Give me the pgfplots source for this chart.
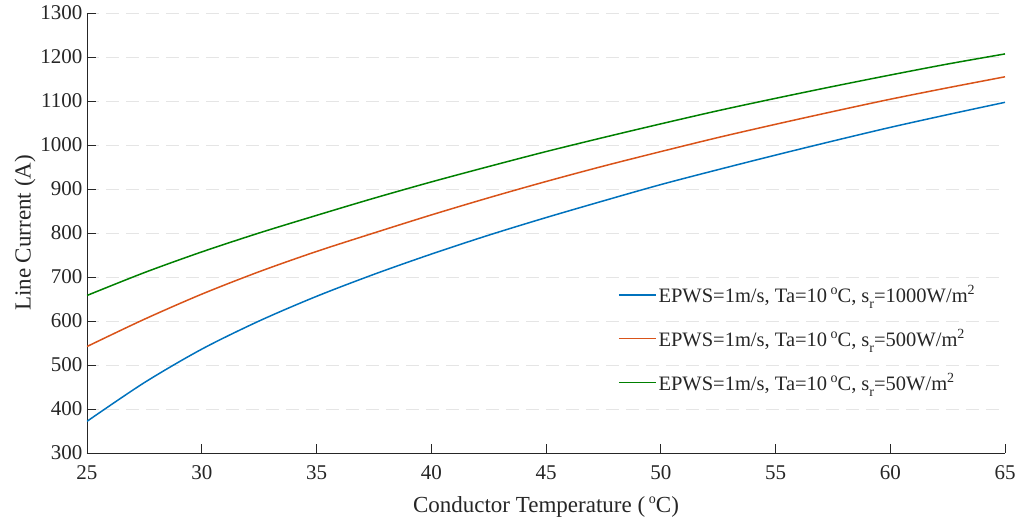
\documentclass[border=0pt]{standalone}
\usepackage{fontspec}
\setmainfont{Liberation Serif}
\usepackage{pgfplots}
\pgfplotsset{compat=1.18}
\definecolor{mblue}{rgb}{0,0.447,0.741}
\definecolor{morange}{rgb}{0.85,0.325,0.098}
\definecolor{mgreen}{rgb}{0,0.5,0}
\definecolor{txt}{rgb}{0.15,0.15,0.15}
\definecolor{gridc}{rgb}{0.9,0.9,0.9}
\newcommand{\mysup}[1]{\raisebox{0.85ex}{\fontsize{14}{14}\selectfont #1}}
\newcommand{\mysub}[1]{\raisebox{-0.6ex}{\fontsize{14}{14}\selectfont #1}}
\begin{document}
\begin{tikzpicture}
\path[use as bounding box] (-87pt,-68pt) rectangle (932pt,453pt);
\begin{axis}[
  scale only axis, width=918pt, height=440pt,
  xmin=25, xmax=65, ymin=300, ymax=1300,
  xtick={25,30,...,65}, ytick={300,400,...,1300},
  axis x line*=bottom, axis y line*=left,
  axis line style={txt, line width=0.8pt},
  xtick align=inside, ytick align=inside, major tick length=9pt,
  tick style={txt, line width=0.8pt},
  ymajorgrids,
  grid style={gridc, line width=0.8pt, dash pattern=on 13pt off 7pt, dash phase=-19pt},
  /pgf/number format/assume math mode=true,
  /pgf/number format/1000 sep={},
  ticklabel style={font=\fontsize{21}{24}\selectfont, text=txt},
  xticklabel style={yshift=-9pt},
  yticklabel style={xshift=-1pt},
  label style={font=\fontsize{23}{26}\selectfont, text=txt},
  xlabel={Conductor Temperature (\,\mysup{o}C)},
  ylabel={Line Current (A)},
  xlabel style={yshift=-10pt},
  ylabel style={yshift=-2pt},
  legend style={draw=none, fill=none, at={(0.575,0.39)}, anchor=north west,
    font=\fontsize{20.5}{24}\selectfont, text=txt, row sep=21pt,
    /tikz/every even column/.append style={column sep=4pt}},
  legend cell align=left,
  legend image code/.code={\draw[#1] (0pt,0pt) -- (37pt,0pt);},
]
\addplot[mblue, line width=1.5pt, smooth] coordinates {
(25,372) (27.5,460) (30,536) (32.5,600) (35,656) (37.5,706) (40,752) (42.5,795)
(45,835) (47.5,873) (50,910) (52.5,944) (55,977) (57.5,1009) (60,1040) (62.5,1069) (65,1097)};
\addlegendentry{EPWS=1m/s, Ta=10\,\mysup{o}C, s\mysub{r}=1000W/m\mysup{2}}
\addplot[morange, line width=1.5pt, smooth] coordinates {
(25,542) (27.5,604) (30,661) (32.5,712) (35,758) (37.5,800) (40,841) (42.5,880)
(45,917) (47.5,952) (50,985) (52.5,1017) (55,1047) (57.5,1076) (60,1104) (62.5,1130) (65,1155)};
\addlegendentry{EPWS=1m/s, Ta=10\,\mysup{o}C, s\mysub{r}=500W/m\mysup{2}}
\addplot[mgreen, line width=1.5pt, smooth] coordinates {
(25,658) (27.5,710) (30,757) (32.5,800) (35,840) (37.5,879) (40,916) (42.5,951)
(45,985) (47.5,1017) (50,1048) (52.5,1078) (55,1106) (57.5,1133) (60,1159) (62.5,1184) (65,1207)};
\addlegendentry{EPWS=1m/s, Ta=10\,\mysup{o}C, s\mysub{r}=50W/m\mysup{2}}
\end{axis}
\end{tikzpicture}
\end{document}
